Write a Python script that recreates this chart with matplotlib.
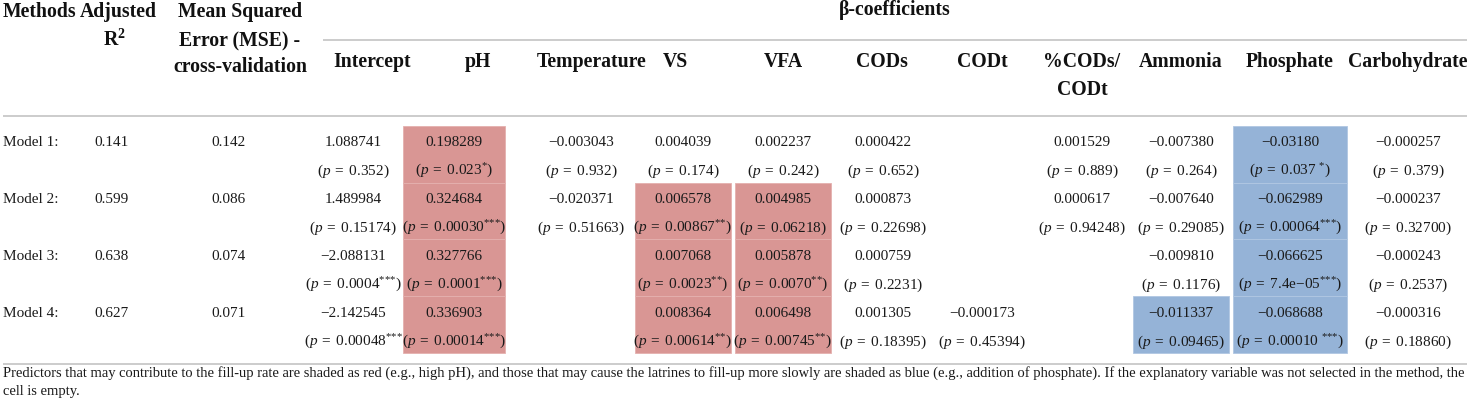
"""Regression table: beta-coefficients per model, drawn with matplotlib."""

import matplotlib

matplotlib.use("Agg")
import matplotlib.pyplot as plt
from matplotlib.patches import Rectangle

plt.rcParams["font.family"] = ["Liberation Serif", "DejaVu Serif"]
plt.rcParams["mathtext.fontset"] = "custom"
plt.rcParams["mathtext.rm"] = "Liberation Serif"
plt.rcParams["mathtext.it"] = "Liberation Serif:italic"
plt.rcParams["mathtext.bf"] = "Liberation Serif:bold"

# --- data -------------------------------------------------------------------
predictors = ["Intercept", "pH", "Temperature", "VS", "VFA", "CODs", "CODt",
              "%CODs/\nCODt", "Ammonia", "Phosphate", "Carbohydrate"]
models = ["Model 1:", "Model 2:", "Model 3:", "Model 4:"]
adj_r2 = ["0.141", "0.599", "0.638", "0.627"]
mse_cv = ["0.142", "0.086", "0.074", "0.071"]

coef_m1 = ["1.088741", "0.198289", "−0.003043", "0.004039", "0.002237", "0.000422",
           None, "0.001529", "−0.007380", "−0.03180", "−0.000257"]
coef_m2 = ["1.489984", "0.324684", "−0.020371", "0.006578", "0.004985", "0.000873",
           None, "0.000617", "−0.007640", "−0.062989", "−0.000237"]
coef_m3 = ["−2.088131", "0.327766", None, "0.007068", "0.005878", "0.000759",
           None, None, "−0.009810", "−0.066625", "−0.000243"]
coef_m4 = ["−2.142545", "0.336903", None, "0.008364", "0.006498", "0.001305",
           "−0.000173", None, "−0.011337", "−0.068688", "−0.000316"]

p_m1 = ["0.352)", "0.023*)", "0.932)", "0.174)", "0.242)", "0.652)",
        None, "0.889)", "0.264)", "0.037 *)", "0.379)"]
p_m2 = ["0.15174)", "0.00030***)", "0.51663)", "0.00867**)", "0.06218)", "0.22698)",
        None, "0.94248)", "0.29085)", "0.00064***)", "0.32700)"]
p_m3 = ["0.0004***)", "0.0001***)", None, "0.0023**)", "0.0070**)", "0.2231)",
        None, None, "0.1176)", "7.4e−05***)", "0.2537)"]
p_m4 = ["0.00048***", "0.00014***)", None, "0.00614**)", "0.00745**)", "0.18395)",
        "0.45394)", None, "0.09465)", "0.00010 ***)", "0.18860)"]

# shading: "r" = may increase fill-up rate, "b" = may slow it down
shade_m1 = [None, "r", None, None, None, None, None, None, None, "b", None]
shade_m2 = [None, "r", None, "r", "r", None, None, None, None, "b", None]
shade_m3 = [None, "r", None, "r", "r", None, None, None, None, "b", None]
shade_m4 = [None, "r", None, "r", "r", None, None, None, "b", "b", None]

footnote = ("Predictors that may contribute to the fill-up rate are shaded as red (e.g., high pH), "
            "and those that may cause the latrines to fill-up more slowly are shaded as blue "
            "(e.g., addition of phosphate). If the explanatory variable was not selected in the "
            "method, the\ncell is empty.")

coefs = [coef_m1, coef_m2, coef_m3, coef_m4]
pvals = [p_m1, p_m2, p_m3, p_m4]
shades = [shade_m1, shade_m2, shade_m3, shade_m4]

# --- layout (pixels) ---------------------------------------------------------
W, H = 1471, 412
col_x = [353, 454, 581, 683, 783, 883, 982, 1082, 1181, 1290, 1408]
head_x = [372, 478, 592, 675, 783, 882, 982, 1082, 1181, 1290, 1408]
shade_half = [51, 51, 51, 48, 48, 48, 48, 48, 48, 57, 48]
row_base = [146, 203, 260, 317]
row_top = [126, 182.5, 239, 296, 353]
SHADE = {"r": "#d99694", "b": "#95b3d7"}
EDGE = {"r": "#e4b0ae", "b": "#b0c7e2"}
LINE = "#c8c8c8"
BODY = 11
HEAD = 14.2

fig = plt.figure(figsize=(W / 100, H / 100), dpi=100)
ax = fig.add_axes([0, 0, 1, 1])
ax.set_xlim(0, W)
ax.set_ylim(H, 0)
ax.axis("off")


def p_text(s):
    closed = s.endswith(")")
    body = s.rstrip(")")
    stars = body.count("*")
    num = body.rstrip("* ")
    gap = body[len(num):].startswith(" ")
    num = num.replace("e−", r"\mathrm{e}{-}")
    sup = ""
    if stars:
        sup = (r"\ {}" if gap else "") + "^{" + "{*}" * stars + "}"
    return r"$(p\;=\;" + num + sup + (")$" if closed else "$")


# header
hb = dict(fontsize=HEAD, fontweight="bold", color="#111111", va="baseline")
ax.text(3, 17, "Methods", ha="left", **hb)
ax.text(118, 17, "Adjusted", ha="center", **hb)
ax.text(114, 46, r"$\mathbf{R}^{\mathbf{2}}$", ha="center", **hb)
ax.text(240, 17, "Mean Squared", ha="center", **hb)
ax.text(240, 46, "Error (MSE) -", ha="center", **hb)
ax.text(240, 72, "cross-validation", ha="center", **hb)
ax.text(895, 15, "β-coefficients", ha="center", **hb)
for x, name in zip(head_x, predictors):
    for k, ln in enumerate(name.split("\n")):
        ax.text(x, 67 + 28 * k, ln, ha="center", **hb)

ax.plot([323, 1467], [40, 40], color=LINE, lw=1.3, solid_capstyle="butt")
ax.plot([3, 1467], [116, 116], color=LINE, lw=1.3, solid_capstyle="butt")
ax.plot([3, 1467], [364, 364], color=LINE, lw=1.3, solid_capstyle="butt")

# shaded cells
for i, row in enumerate(shades):
    for j, sh in enumerate(row):
        if sh is None:
            continue
        x0 = col_x[j] - shade_half[j]
        ax.add_patch(Rectangle((x0, row_top[i]), 2 * shade_half[j], row_top[i + 1] - row_top[i],
                               facecolor=SHADE[sh], edgecolor=EDGE[sh], lw=0.6, zorder=0))

# body
tb = dict(fontsize=BODY, color="#1a1a1a", va="baseline")
for i, name in enumerate(models):
    y = row_base[i]
    ax.text(3, y, name, ha="left", **tb)
    ax.text(112, y, adj_r2[i], ha="center", **tb)
    ax.text(229, y, mse_cv[i], ha="center", **tb)
    for j in range(len(predictors)):
        if coefs[i][j] is not None:
            ax.text(col_x[j], y, coefs[i][j], ha="center", **tb)
        if pvals[i][j] is not None:
            ax.text(col_x[j], y + 28.5, p_text(pvals[i][j]), ha="center", **tb)

# footnote, sized to span the table width
lines = footnote.split("\n")
t1 = ax.text(3, 377, lines[0], ha="left", va="baseline", fontsize=10, color="#1a1a1a")
fig.canvas.draw()
wpx = t1.get_window_extent().width
fs = 10 * (1463 / wpx)
t1.set_fontsize(fs)
ax.text(3, 395, lines[1], ha="left", va="baseline", fontsize=fs, color="#1a1a1a")

fig.savefig("out.png", dpi=100, facecolor="white")
